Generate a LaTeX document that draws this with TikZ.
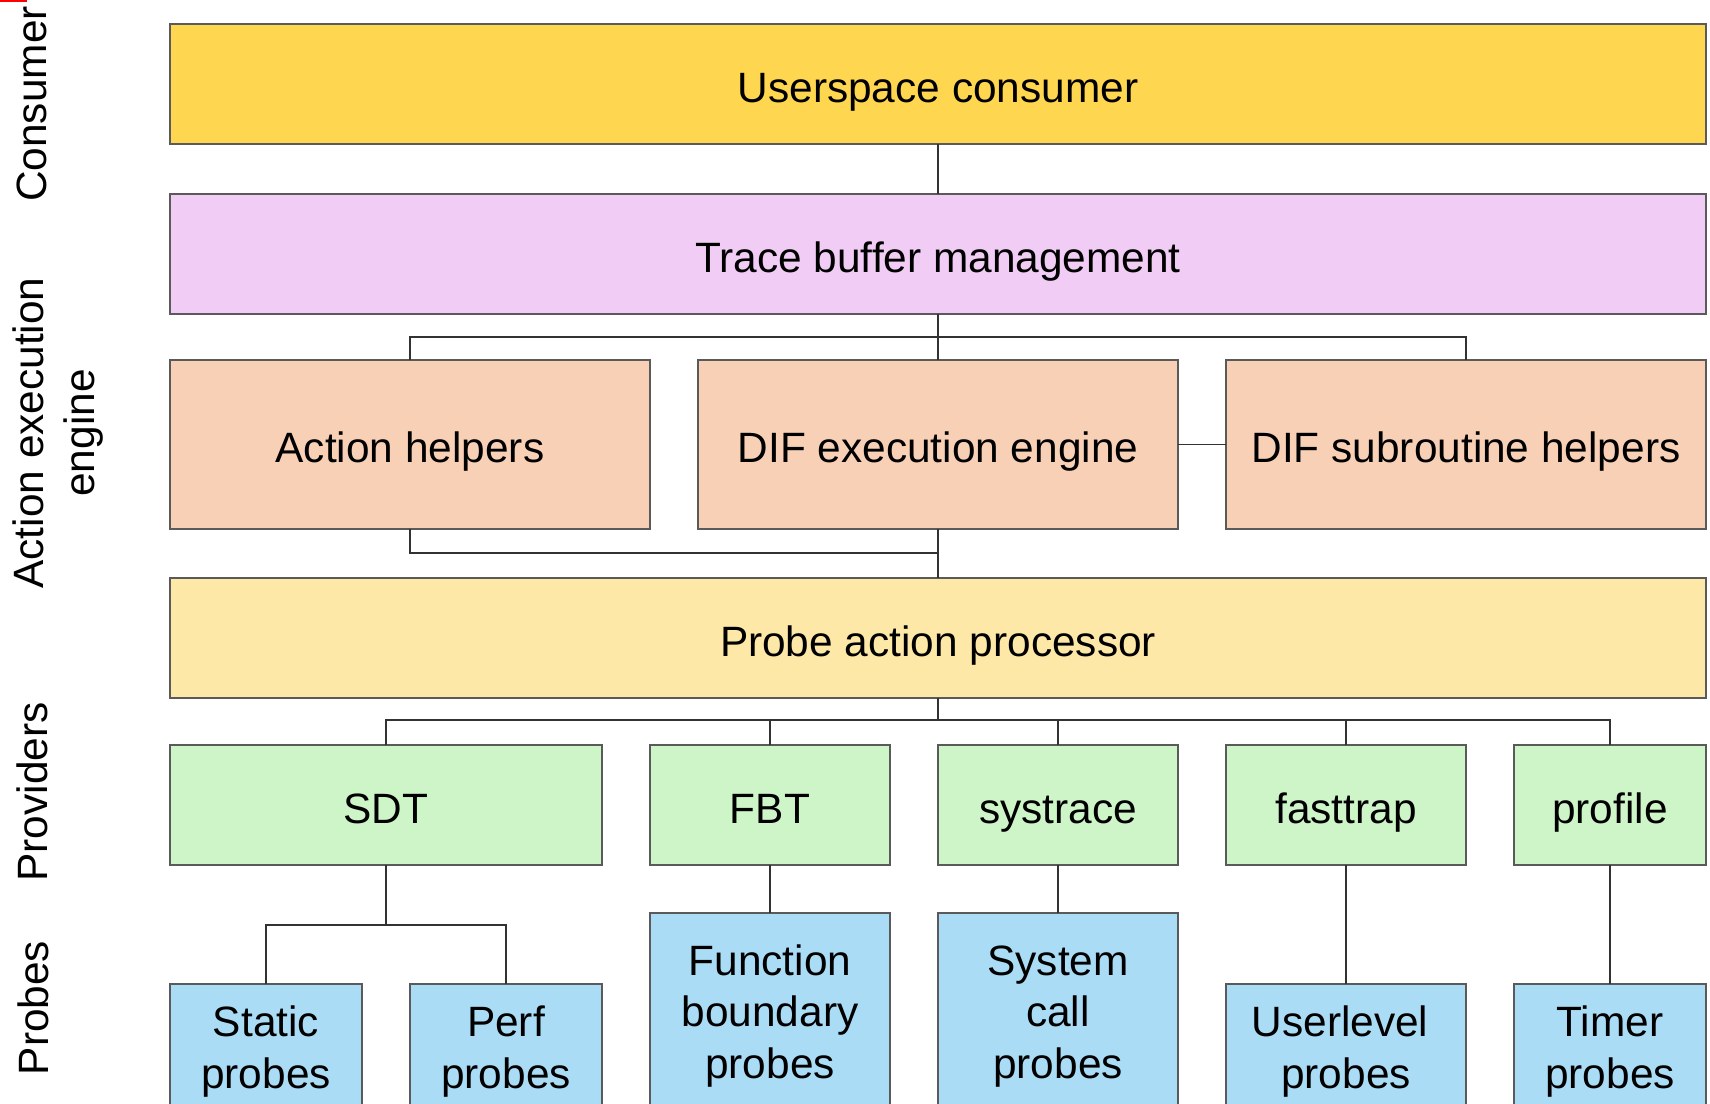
\documentclass[tikz,border=0pt]{standalone}
\usepackage{fontspec}
\setmainfont{Liberation Sans}
\definecolor{cuser}{RGB}{255,214,79}
\definecolor{ctrace}{RGB}{241,204,245}
\definecolor{cpeach}{RGB}{248,208,182}
\definecolor{cpap}{RGB}{253,232,168}
\definecolor{cgreen}{RGB}{206,245,200}
\definecolor{cblue}{RGB}{171,220,246}
\definecolor{cborder}{RGB}{90,90,90}
\definecolor{cline}{RGB}{50,50,50}
\begin{document}
\begin{tikzpicture}[x=1pt,y=-1pt,
  box/.style={draw=cborder, line width=1.4pt, inner sep=0pt, outer sep=0pt},
  txt/.style={align=center, inner sep=0pt, font=\fontsize{42.4}{51.5}\selectfont, yshift=-7.8pt},
  txtm/.style={txt, yshift=2.8pt},
  side/.style={rotate=90, align=center, inner sep=0pt, font=\fontsize{42.4}{51.5}\selectfont},
  conn/.style={draw=cline, line width=1.3pt}]
\useasboundingbox (0,0) rectangle (1710,1103);
\fill[white] (0,0) rectangle (1710,1103);
\fill[red] (0,0) rectangle (27,2);
% side labels
\node[side] (lcons) at (32,104) {Consumer};
\node[side] (lact) at (58,433) {Action execution\\engine};
\node[side] (lprov) at (32,792) {Providers};
\node[side] (lprobe) at (33,1008) {Probes};
% boxes
\node[box, fill=cuser, minimum width=1536pt, minimum height=120pt] (user) at (938,84) {};
\node[box, fill=ctrace, minimum width=1536pt, minimum height=120pt] (trace) at (938,254) {};
\node[box, fill=cpeach, minimum width=480pt, minimum height=169pt] (ah) at (410,444.5) {};
\node[box, fill=cpeach, minimum width=480pt, minimum height=169pt] (dif) at (938,444.5) {};
\node[box, fill=cpeach, minimum width=480pt, minimum height=169pt] (difsub) at (1466,444.5) {};
\node[box, fill=cpap, minimum width=1536pt, minimum height=120pt] (pap) at (938,638) {};
\node[box, fill=cgreen, minimum width=432pt, minimum height=120pt] (sdt) at (386,805) {};
\node[box, fill=cgreen, minimum width=240pt, minimum height=120pt] (fbt) at (770,805) {};
\node[box, fill=cgreen, minimum width=240pt, minimum height=120pt] (systrace) at (1058,805) {};
\node[box, fill=cgreen, minimum width=240pt, minimum height=120pt] (fasttrap) at (1346,805) {};
\node[box, fill=cgreen, minimum width=192pt, minimum height=120pt] (profile) at (1610,805) {};
\node[box, fill=cblue, minimum width=192pt, minimum height=126pt] (static) at (266,1047) {};
\node[box, fill=cblue, minimum width=192pt, minimum height=126pt] (perf) at (506,1047) {};
\node[box, fill=cblue, minimum width=240pt, minimum height=197pt] (func) at (770,1011.5) {};
\node[box, fill=cblue, minimum width=240pt, minimum height=197pt] (syscall) at (1058,1011.5) {};
\node[box, fill=cblue, minimum width=240pt, minimum height=126pt] (userlevel) at (1346,1047) {};
\node[box, fill=cblue, minimum width=192pt, minimum height=126pt] (timer) at (1610,1047) {};
% texts
\node[txt] (tuser) at (user.center) {\strut Userspace consumer};
\node[txt] (ttrace) at (trace.center) {\strut Trace buffer management};
\node[txt] (tah) at (ah.center) {\strut Action helpers};
\node[txt] (tdif) at (dif.center) {\strut DIF execution engine};
\node[txt] (tdifsub) at (difsub.center) {\strut DIF subroutine helpers};
\node[txt] (tpap) at (pap.center) {\strut Probe action processor};
\node[txt] (tsdt) at (sdt.center) {\strut SDT};
\node[txt] (tfbt) at (fbt.center) {\strut FBT};
\node[txt] (tsystrace) at (systrace.center) {\strut systrace};
\node[txt] (tfasttrap) at (fasttrap.center) {\strut fasttrap};
\node[txt] (tprofile) at (profile.center) {\strut profile};
\node[txtm] (tstatic) at (static.center) {\strut Static\\\strut probes};
\node[txtm] (tperf) at (perf.center) {\strut Perf\\\strut probes};
\node[txtm] (tfunc) at (func.center) {\strut Function\\\strut boundary\\\strut probes};
\node[txtm] (tsyscall) at (syscall.center) {\strut System\\\strut call\\\strut probes};
\node[txtm] (tuserlevel) at (userlevel.center) {\strut Userlevel\hspace*{12pt}\\\strut probes};
\node[txtm] (ttimer) at (timer.center) {\strut Timer\\\strut probes};
% junctions
\coordinate (j1) at (938,337);
\coordinate (j2) at (938,553);
\coordinate (j3) at (938,720);
\coordinate (j4) at (386,925);
% connectors
\draw[conn] (user.south) -- (trace.north);
\draw[conn] (trace.south) -- (dif.north);
\draw[conn] (ah.north) |- (j1) -| (difsub.north);
\draw[conn] (dif.east) -- (difsub.west);
\draw[conn] (ah.south) |- (j2);
\draw[conn] (dif.south) -- (pap.north);
\draw[conn] (pap.south) -- (j3);
\draw[conn] (sdt.north) |- (j3) -| (profile.north);
\draw[conn] (fbt.north) -- (fbt.north |- j3);
\draw[conn] (systrace.north) -- (systrace.north |- j3);
\draw[conn] (fasttrap.north) -- (fasttrap.north |- j3);
\draw[conn] (sdt.south) -- (j4);
\draw[conn] (static.north) |- (j4) -| (perf.north);
\draw[conn] (fbt.south) -- (func.north);
\draw[conn] (systrace.south) -- (syscall.north);
\draw[conn] (fasttrap.south) -- (userlevel.north);
\draw[conn] (profile.south) -- (timer.north);
\end{tikzpicture}
\end{document}
